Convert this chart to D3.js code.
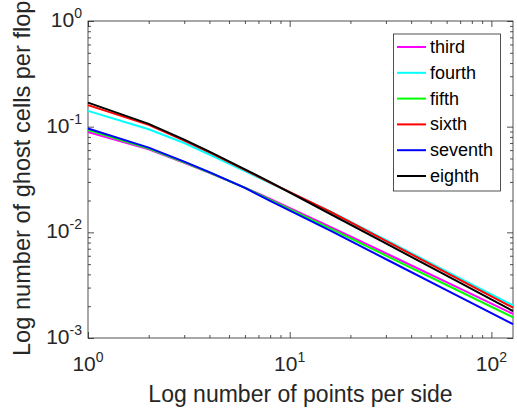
<!DOCTYPE html>
<html>
<head>
<meta charset="utf-8">
<script src="https://cdn.jsdelivr.net/npm/d3@7"></script>
<style>
  body { margin: 0; background: #fff; }
  svg { display: block; font-family: "Liberation Sans", Arial, Helvetica, sans-serif; }
</style>
</head>
<body>
<div id="chart"></div>
<script>
// points per side
const pointsPerSide = [1, 2, 3, 4, 6, 8, 16, 32, 64, 128];

// ghost cells per flop
const third   = [0.089, 0.061, 0.0455, 0.0366, 0.0265, 0.0207, 0.0112, 0.00597, 0.00318, 0.00169];
const fourth  = [0.141, 0.0945, 0.0700, 0.0545, 0.0380, 0.0293, 0.0157, 0.00794, 0.00401, 0.00203];
const fifth   = [0.093, 0.062, 0.0460, 0.0368, 0.0264, 0.0203, 0.0108, 0.00568, 0.00299, 0.00157];
const sixth   = [0.160, 0.104, 0.0740, 0.0572, 0.0390, 0.0295, 0.0156, 0.00778, 0.00388, 0.00194];
const seventh = [0.096, 0.0633, 0.0467, 0.0371, 0.0263, 0.0198, 0.0103, 0.00524, 0.00266, 0.00135];
const eighth  = [0.169, 0.1062, 0.0753, 0.0581, 0.0395, 0.0298, 0.01483, 0.00736, 0.00364, 0.00180];

const seriesNames = ["third", "fourth", "fifth", "sixth", "seventh", "eighth"];
const seriesValues = [third, fourth, fifth, sixth, seventh, eighth];
const seriesColors = ["#ff00ff", "#00ffff", "#00ff00", "#ff0000", "#0000ff", "#000000"];

const xMajor = [1, 10, 100];
const yMajor = [0.001, 0.01, 0.1, 1];

const width = 517;
const height = 409;
const plot = { left: 88, right: 513, top: 21, bottom: 338 };
const axisColor = "#262626";

const svg = d3.select("#chart")
  .append("svg")
  .attr("width", width)
  .attr("height", height);

const x = d3.scaleLog().domain([1, 128]).range([plot.left, plot.right]);
const y = d3.scaleLog().domain([0.001, 1]).range([plot.bottom, plot.top]);

// minor ticks 2..9 of each decade
const xMinor = x.ticks().filter((t) => !xMajor.includes(t));
const yMinor = y.ticks().filter((t) => !yMajor.some((m) => Math.abs(m - t) < 1e-12));

function styleAxis(g) {
  g.select(".domain").remove();
  g.selectAll("line").attr("stroke", axisColor).attr("stroke-width", 0.8);
  g.selectAll("text").remove();
}

// ticks pointing inwards, on all four sides
[[xMajor, 6], [xMinor, 3]].forEach(([vals, len]) => {
  svg.append("g")
    .attr("transform", `translate(0,${plot.bottom})`)
    .call(d3.axisBottom(x).tickValues(vals).tickSize(-len))
    .call(styleAxis);
  svg.append("g")
    .attr("transform", `translate(0,${plot.top})`)
    .call(d3.axisTop(x).tickValues(vals).tickSize(-len))
    .call(styleAxis);
});
[[yMajor, 6], [yMinor, 3]].forEach(([vals, len]) => {
  svg.append("g")
    .attr("transform", `translate(${plot.left},0)`)
    .call(d3.axisLeft(y).tickValues(vals).tickSize(-len))
    .call(styleAxis);
  svg.append("g")
    .attr("transform", `translate(${plot.right},0)`)
    .call(d3.axisRight(y).tickValues(vals).tickSize(-len))
    .call(styleAxis);
});

// box
svg.append("rect")
  .attr("x", plot.left)
  .attr("y", plot.top)
  .attr("width", plot.right - plot.left)
  .attr("height", plot.bottom - plot.top)
  .attr("fill", "none")
  .attr("stroke", axisColor)
  .attr("stroke-width", 0.8);

// tick labels with superscripts
function powerLabel(sel, v) {
  const e = Math.round(Math.log10(v));
  sel.append("tspan").text("10");
  sel.append("tspan")
    .attr("dy", -9)
    .style("font-size", "14px")
    .text(e);
}

xMajor.forEach((v) => {
  svg.append("text")
    .attr("x", x(v))
    .attr("y", 371)
    .attr("text-anchor", "middle")
    .attr("fill", axisColor)
    .style("font-size", "21px")
    .call(powerLabel, v);
});

yMajor.forEach((v) => {
  svg.append("text")
    .attr("x", 82)
    .attr("y", y(v) + 6)
    .attr("text-anchor", "end")
    .attr("fill", axisColor)
    .style("font-size", "21px")
    .call(powerLabel, v);
});

// lines
const line = d3.line()
  .x((d) => x(d[0]))
  .y((d) => y(d[1]));

seriesValues.forEach((vals, i) => {
  svg.append("path")
    .datum(pointsPerSide.map((p, j) => [p, vals[j]]))
    .attr("d", line)
    .attr("fill", "none")
    .attr("stroke", seriesColors[i])
    .attr("stroke-width", 2);
});

// axis labels
svg.append("text")
  .attr("x", (plot.left + plot.right) / 2)
  .attr("y", 402)
  .attr("text-anchor", "middle")
  .attr("fill", axisColor)
  .style("font-size", "23px")
  .text("Log number of points per side");

svg.append("text")
  .attr("transform", "translate(30,356) rotate(-90)")
  .attr("text-anchor", "start")
  .attr("fill", axisColor)
  .style("font-size", "23.6px")
  .text("Log number of ghost cells per flop");

// legend
const legend = svg.append("g");
legend.append("rect")
  .attr("x", 393.5)
  .attr("y", 34)
  .attr("width", 107)
  .attr("height", 157)
  .attr("fill", "#fff")
  .attr("stroke", axisColor)
  .attr("stroke-width", 0.8);

seriesNames.forEach((name, i) => {
  const ry = 47 + i * 25.8;
  legend.append("line")
    .attr("x1", 397)
    .attr("x2", 426)
    .attr("y1", ry)
    .attr("y2", ry)
    .attr("stroke", seriesColors[i])
    .attr("stroke-width", 2);
  legend.append("text")
    .attr("x", 430)
    .attr("y", ry + 6)
    .attr("fill", "#000")
    .style("font-size", "18px")
    .text(name);
});
</script>
</body>
</html>
